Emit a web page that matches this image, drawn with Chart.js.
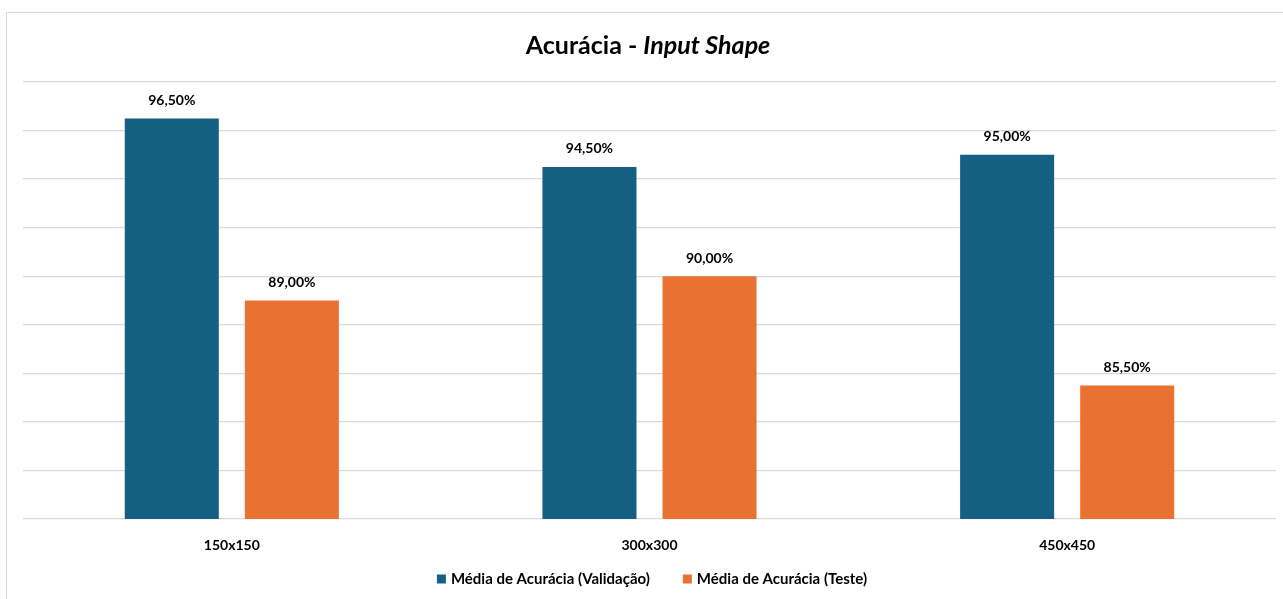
<!DOCTYPE html>
<html>
<head>
<meta charset="utf-8">
<script src="https://cdn.jsdelivr.net/npm/chart.js@4.4.0/dist/chart.umd.min.js"></script>
<style>
  html, body { margin: 0; padding: 0; background: #fff; overflow: hidden; }
  #wrap { position: relative; width: 1283px; height: 599px; }
  #frame { position: absolute; left: 6px; top: 12px; width: 1300px; height: 620px;
           border: 1.5px solid #d9d9d9; box-sizing: border-box; }
  canvas { position: absolute; left: 0; top: 0; }
</style>
</head>
<body>
<div id="wrap">
  <div id="frame"></div>
  <canvas id="chart" width="1283" height="599"></canvas>
</div>
<script>
const categories = ['150x150', '300x300', '450x450'];
const validacao = [96.5, 94.5, 95.0];
const teste = [89.0, 90.0, 85.5];
const seriesNames = ['Média de Acurácia (Validação)', 'Média de Acurácia (Teste)'];
const seriesColors = ['#156082', '#E97132'];
const yMin = 80, yMax = 98, yStep = 2;

const FONT = 'Lato, "Open Sans", sans-serif';

// two-style title: bold + bold italic
const titlePlugin = {
    id: 'mixedTitle',
    afterDraw(chart) {
        const ctx = chart.ctx;
        const partA = 'Acurácia - ';
        const partB = 'Input Shape';
        ctx.save();
        ctx.fillStyle = '#000';
        ctx.textBaseline = 'middle';
        ctx.font = `bold 25px ${FONT}`;
        const wA = ctx.measureText(partA).width;
        ctx.font = `italic bold 25px ${FONT}`;
        const wB = ctx.measureText(partB).width;
        const x = 648 - (wA + wB) / 2;
        ctx.font = `bold 25px ${FONT}`;
        ctx.fillText(partA, x, 46);
        ctx.font = `italic bold 25px ${FONT}`;
        ctx.fillText(partB, x + wA, 46);
        ctx.restore();
    }
};

const valueLabels = {
    id: 'valueLabels',
    afterDatasetsDraw(chart) {
        const ctx = chart.ctx;
        ctx.save();
        ctx.font = `bold 14px ${FONT}`;
        ctx.fillStyle = '#000';
        ctx.textAlign = 'center';
        ctx.textBaseline = 'middle';
        chart.data.datasets.forEach((ds, i) => {
            chart.getDatasetMeta(i).data.forEach((bar, j) => {
                const txt = ds.data[j].toFixed(2).replace('.', ',') + '%';
                ctx.fillText(txt, bar.x, bar.y - 18);
            });
        });
        ctx.restore();
    }
};

// legend drawn by hand so its spacing matches the original
const bottomLegend = {
    id: 'bottomLegend',
    afterDraw(chart) {
        const ctx = chart.ctx;
        const box = 9, gapText = 5, gapItem = 33, y = 579;
        ctx.save();
        ctx.font = `bold 15px ${FONT}`;
        ctx.textBaseline = 'middle';
        const items = chart.data.datasets.map(ds => ({
            text: ds.label, color: ds.backgroundColor,
            w: box + gapText + ctx.measureText(ds.label).width
        }));
        const total = items.reduce((s, it) => s + it.w, 0) + gapItem * (items.length - 1);
        let x = 652 - total / 2;
        items.forEach(it => {
            ctx.fillStyle = it.color;
            ctx.fillRect(x, y - box / 2, box, box);
            ctx.fillStyle = '#000';
            ctx.fillText(it.text, x + box + gapText, y);
            x += it.w + gapItem;
        });
        ctx.restore();
    }
};

new Chart(document.getElementById('chart'), {
    type: 'bar',
    data: {
        labels: categories,
        datasets: [
            { label: seriesNames[0], data: validacao, backgroundColor: seriesColors[0] },
            { label: seriesNames[1], data: teste, backgroundColor: seriesColors[1] }
        ]
    },
    options: {
        responsive: false,
        animation: false,
        categoryPercentage: 0.575,
        barPercentage: 0.783,
        layout: { padding: { left: 23, right: 7, top: 82, bottom: 36 } },
        scales: {
            x: {
                grid: { display: false },
                border: { display: false },
                ticks: { color: '#000', font: { family: FONT, size: 14, weight: 'bold' }, padding: 10 },
                afterFit(scale) { scale.height = 44; }
            },
            y: {
                min: yMin,
                max: yMax,
                ticks: { stepSize: yStep, display: false },
                border: { display: false },
                grid: { color: '#d9d9d9', lineWidth: 1.3, drawTicks: false },
                afterFit(scale) { scale.width = 0; }
            }
        },
        plugins: {
            title: { display: false },
            tooltip: { enabled: false },
            legend: { display: false }
        }
    },
    plugins: [titlePlugin, valueLabels, bottomLegend]
});
</script>
</body>
</html>
